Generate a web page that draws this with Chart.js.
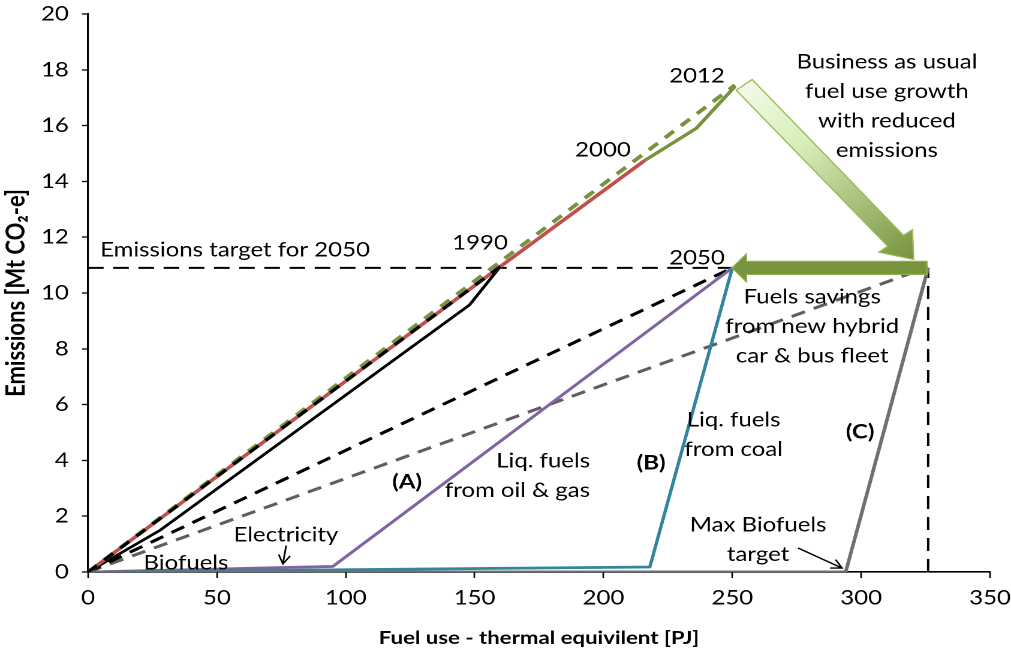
<!DOCTYPE html>
<html><head><meta charset="utf-8">
<script src="https://cdn.jsdelivr.net/npm/chart.js@4.4.1/dist/chart.umd.min.js"></script>
<style>
html,body{margin:0;padding:0;background:#fff;overflow:hidden;width:1011px;height:657px}
#wrap{width:843px;height:657px;transform:scaleX(1.19929);transform-origin:0 0;}
</style></head><body><div id="wrap"><canvas id="c" width="843" height="657"></canvas></div>
<script>
// ---- tick labels ----
const xTicks = [0, 50, 100, 150, 200, 250, 300, 350];
const yTicks = [0, 2, 4, 6, 8, 10, 12, 14, 16, 18, 20];

// ---- series (Fuel use PJ, Emissions Mt CO2-e) ----
const histDashX  = [0, 160];          const histDashY  = [0, 10.95];
const greenDashX = [0, 251];          const greenDashY = [0, 17.45];
const redX       = [0, 160, 216];     const redY       = [0, 10.95, 14.75];
const greenX     = [216, 236, 251];   const greenY     = [14.75, 15.9, 17.4];
const blackX     = [0, 28, 148, 160]; const blackY     = [0, 1.5, 9.57, 10.95];
const grayX      = [0, 294, 326];     const grayY      = [0, 0, 10.9];
const tealX      = [0, 218, 250];     const tealY      = [0, 0.18, 10.9];
const purpleX    = [0, 95, 250];      const purpleY    = [0, 0.2, 10.9];
const blackDashX = [0, 250];          const blackDashY = [0, 10.9];
const grayDashX  = [0, 325];          const grayDashY  = [0, 10.9];
const targetX    = [0, 326];          const targetY    = [10.9, 10.9];
const targetVX   = [326, 326];        const targetVY   = [0, 10.9];

// ---- annotations (data coordinates) ----
const noteText = [
  ['Emissions target for 2050'], ['1990'], ['2000'], ['2012'], ['2050'],
  ['Business as usual', 'fuel use growth', 'with reduced', 'emissions'],
  ['Fuels savings', 'from new hybrid', 'car & bus fleet'],
  ['Liq. fuels', 'from oil & gas'], ['(A)'], ['(B)'],
  ['Liq. fuels', 'from coal'], ['(C)'], ['Max Biofuels', 'target'],
  ['Electricity'], ['Biofuels']
];
const noteX = [4.7, 152.1, 199.8, 236.3, 236.3, 310, 281, 194.8, 123.8, 218.5, 250.5, 299.6, 260, 76.8, 38];
const noteY = [11.54, 11.79, 15.13, 17.78, 11.25, 18.28, 9.86, 3.98, 3.23, 3.9, 5.45, 5.02, 1.68, 1.33, 0.32];
const noteAlign = ['left','center','center','center','center','center','center','right','center','center','center','center','center','center','center'];
const noteBold = [0,0,0,0,0,0,0,0,1,1,0,1,0,0,0];

const bauArrowX = [254.6, 320.4];   const bauArrowY = [17.46, 11.2];
const saveArrowX = [325.5, 249.9];  const saveArrowY = [10.9, 10.9];
const smallArrowX = [[76.9, 75.6], [275.5, 292.6]];
const smallArrowY = [[0.95, 0.29], [0.86, 0.14]];

const FONT = 'Lato';
const pts = (xs, ys) => xs.map((x, i) => ({x, y: ys[i]}));
function ds(xs, ys, color, width, dash) {
  return {data: pts(xs, ys), borderColor: color, borderWidth: width, borderDash: dash || [],
    showLine: true, pointRadius: 0, fill: false, tension: 0, borderCapStyle: 'butt', borderJoinStyle: 'round'};
}

function blockArrow(ctx, x0, y0, x1, y1, bw, hw, hl, fill, stroke) {
  const dx = x1 - x0, dy = y1 - y0, L = Math.hypot(dx, dy);
  const ux = dx / L, uy = dy / L, nx = -uy, ny = ux;
  const bx = x1 - ux * hl, by = y1 - uy * hl;
  ctx.beginPath();
  ctx.moveTo(x0 + nx * bw / 2, y0 + ny * bw / 2);
  ctx.lineTo(bx + nx * bw / 2, by + ny * bw / 2);
  ctx.lineTo(bx + nx * hw / 2, by + ny * hw / 2);
  ctx.lineTo(x1, y1);
  ctx.lineTo(bx - nx * hw / 2, by - ny * hw / 2);
  ctx.lineTo(bx - nx * bw / 2, by - ny * bw / 2);
  ctx.lineTo(x0 - nx * bw / 2, y0 - ny * bw / 2);
  ctx.closePath();
  ctx.fillStyle = fill; ctx.fill();
  ctx.lineWidth = 1.2; ctx.strokeStyle = stroke; ctx.stroke();
}
function smallArrow(ctx, x0, y0, x1, y1) {
  const a = Math.atan2(y1 - y0, x1 - x0), h = 10, s = 0.5;
  ctx.beginPath();
  ctx.moveTo(x0, y0); ctx.lineTo(x1, y1);
  ctx.moveTo(x1 - h * Math.cos(a - s), y1 - h * Math.sin(a - s));
  ctx.lineTo(x1, y1);
  ctx.lineTo(x1 - h * Math.cos(a + s), y1 - h * Math.sin(a + s));
  ctx.lineWidth = 1.4; ctx.strokeStyle = '#000'; ctx.stroke();
}

const notesPlugin = {
  id: 'notes',
  afterDatasetsDraw(chart) {
    const {ctx, scales: {x, y}} = chart;
    ctx.save();
    const ax0 = x.getPixelForValue(bauArrowX[0]), ay0 = y.getPixelForValue(bauArrowY[0]);
    const ax1 = x.getPixelForValue(bauArrowX[1]), ay1 = y.getPixelForValue(bauArrowY[1]);
    const g = ctx.createLinearGradient(ax0, ay0, ax1, ay1);
    g.addColorStop(0, '#F2FBE8'); g.addColorStop(0.35, '#D7EDB8'); g.addColorStop(1, '#77933C');
    blockArrow(ctx, ax0, ay0, ax1, ay1, 17, 36, 24, g, '#9BBB59');
    blockArrow(ctx, x.getPixelForValue(saveArrowX[0]), y.getPixelForValue(saveArrowY[0]),
      x.getPixelForValue(saveArrowX[1]), y.getPixelForValue(saveArrowY[1]), 13, 28, 12, '#77933C', '#8FB04F');
    for (let i = 0; i < smallArrowX.length; i++) {
      smallArrow(ctx, x.getPixelForValue(smallArrowX[i][0]), y.getPixelForValue(smallArrowY[i][0]),
        x.getPixelForValue(smallArrowX[i][1]), y.getPixelForValue(smallArrowY[i][1]));
    }
    ctx.fillStyle = '#000';
    ctx.textBaseline = 'middle';
    for (let i = 0; i < noteText.length; i++) {
      ctx.font = (noteBold[i] ? 'bold ' : '') + '20px ' + FONT;
      ctx.textAlign = noteAlign[i];
      const px = x.getPixelForValue(noteX[i]), py = y.getPixelForValue(noteY[i]);
      noteText[i].forEach((t, k) => ctx.fillText(t, px, py + k * 29.5));
    }
    ctx.restore();
  }
};

function zeroPad(s) { s.paddingTop = 0; s.paddingBottom = 0; s.paddingLeft = 0; s.paddingRight = 0; }

function build() {
  new Chart(document.getElementById('c'), {
    type: 'scatter',
    data: {datasets: [
      ds(histDashX, histDashY, '#000000', 3, [10, 8]),
      ds(greenDashX, greenDashY, '#77933C', 3.6, [10, 8]),
      ds(redX, redY, '#C0504D', 3.4),
      ds(greenX, greenY, '#77933C', 3.2),
      ds(blackX, blackY, '#000000', 2.6),
      ds(grayX, grayY, '#707070', 3),
      ds(tealX, tealY, '#31859C', 2.8),
      ds(purpleX, purpleY, '#8064A2', 2.8),
      ds(blackDashX, blackDashY, '#000000', 3, [12, 8]),
      ds(grayDashX, grayDashY, '#5F5F5F', 3, [12, 8]),
      ds(targetX, targetY, '#000000', 2, [13, 8]),
      ds(targetVX, targetVY, '#000000', 2, [13, 8])
    ]},
    options: {
      responsive: false, devicePixelRatio: 2, animation: false,
      layout: {padding: {top: 14, right: 17.5, left: 0, bottom: 0}},
      plugins: {legend: {display: false}, tooltip: {enabled: false}},
      scales: {
        x: {
          type: 'linear', min: 0, max: 350,
          afterBuildTicks: s => { s.ticks = xTicks.map(v => ({value: v})); },
          afterFit: s => { s.height = 85; zeroPad(s); },
          grid: {drawOnChartArea: false, drawTicks: true, tickLength: 6, color: '#000', tickWidth: 1.3},
          border: {color: '#000', width: 1.6},
          ticks: {font: {family: FONT, size: 20}, color: '#000', padding: 8, maxRotation: 0},
          title: {display: true, text: 'Fuel use - thermal equivilent [PJ]', color: '#000',
            font: {family: FONT, size: 18.5, weight: 'bold'}, padding: {top: 0, bottom: 8}}
        },
        y: {
          type: 'linear', min: 0, max: 20,
          afterBuildTicks: s => { s.ticks = yTicks.map(v => ({value: v})); },
          afterFit: s => { s.width = 73.4; zeroPad(s); },
          grid: {drawOnChartArea: false, drawTicks: true, tickLength: 5, color: '#000', tickWidth: 1.3},
          border: {color: '#000', width: 1.6},
          ticks: {font: {family: FONT, size: 20}, color: '#000', padding: 11},
          title: {display: true, text: 'Emissions [Mt CO\u2082-e]', color: '#000',
            font: {family: FONT, size: 22, weight: 'bold'}, padding: {top: 0, bottom: 0}}
        }
      }
    },
    plugins: [notesPlugin]
  });
}
if (document.fonts && document.fonts.load) {
  Promise.all([document.fonts.load('20px Lato'), document.fonts.load('bold 20px Lato')]).then(build, build);
} else build();
</script></body></html>
